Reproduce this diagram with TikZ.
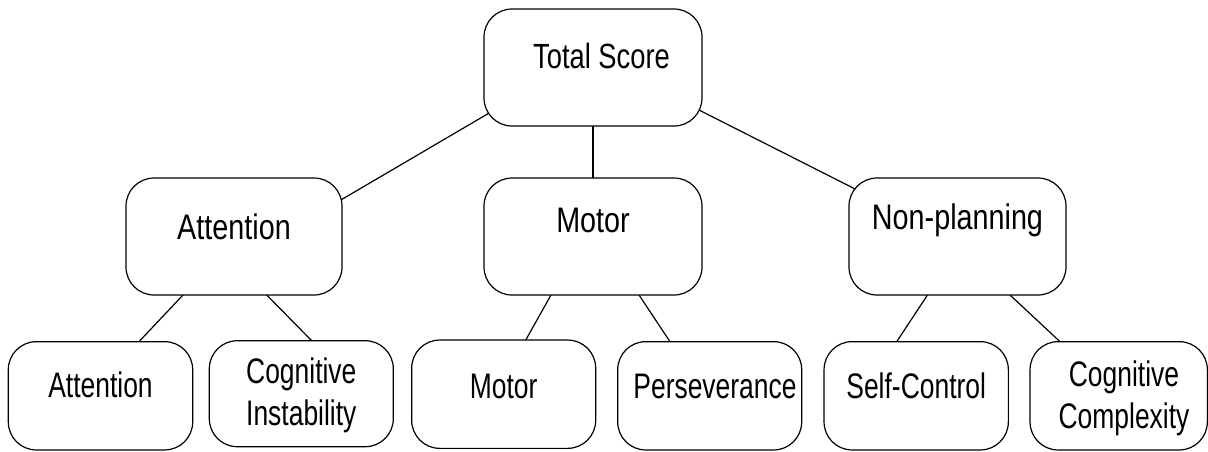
\documentclass[tikz,border=0pt]{standalone}
\usepackage{fontspec}
\setmainfont{Liberation Sans}
\newfontfamily\ftop{Liberation Sans}[FakeStretch=0.78]
\newfontfamily\fmid{Liberation Sans}[FakeStretch=0.81]
\newfontfamily\fbot{Liberation Sans}[FakeStretch=0.745]
\usetikzlibrary{calc,backgrounds}
\begin{document}
\begin{tikzpicture}[x=1pt,y=-1pt,
  box/.style={draw=black, line width=1.2pt, fill=white, rounded corners=28pt,
    rectangle, inner sep=0pt, outer sep=0pt, align=center},
  bigbox/.style={box, minimum width=#1, minimum height=117pt},
  smallbox/.style={box, minimum width=#1, minimum height=108.3pt},
  toptext/.style={font=\ftop\fontsize{35pt}{41.7pt}\selectfont},
  midtext/.style={font=\fmid\fontsize{35.5pt}{41.7pt}\selectfont},
  bottext/.style={font=\fbot\fontsize{35.5pt}{41.7pt}\selectfont},
  conn/.style={draw=black, line width=1.2pt}]
\useasboundingbox (0,0) rectangle (1208,451);

% top level
\node[bigbox=218pt, toptext, text height=30.8pt, text depth=29.2pt] (tot) at (593,67.5) {\hspace*{17pt}Total Score};

% middle level
\node[bigbox=216pt, midtext, text height=32.5pt, text depth=27.5pt] (attM) at (234,236.5) {Attention};
\node[bigbox=218pt, midtext, text height=25.8pt, text depth=34.2pt] (motM) at (593,236.5) {Motor};
\node[bigbox=217pt, midtext, text height=22.8pt, text depth=37.2pt] (nonM) at (957.5,236.5) {Non-planning};

% bottom level
\node[smallbox=184.4pt, bottext, text height=31.5pt, text depth=28.5pt] (attB) at (100.5,395.8) {Attention};
\node[box, minimum width=184pt, minimum height=106pt, bottext, text height=62.6pt, text depth=0pt] (cogI) at (301.3,393.7) {Cognitive\\Instability};
\node[smallbox=184pt, bottext, text height=33.8pt, text depth=26.2pt] (motB) at (503.7,394.2) {Motor};
\node[smallbox=184pt, bottext, text height=32.2pt, text depth=27.8pt] (pers) at (709.7,395.8) {\hspace*{10.6pt}Perseverance};
\node[smallbox=184.3pt, bottext, text height=32.2pt, text depth=27.8pt] (self) at (916.2,395.8) {Self-Control};
\node[smallbox=177.3pt, bottext, text height=65pt, text depth=0pt] (cogC) at (1118.7,395.8) {\hspace*{10.6pt}Cognitive\\\hspace*{10.6pt}Complexity};

\begin{scope}[on background layer]
  \draw[conn] ($(attM.19.6)!-0.1!(tot.204.7)$) -- ($(attM.19.6)!1.15!(tot.204.7)$);
  \draw[conn] (tot.south) -- (motM.north);
  \draw[conn] ($(tot.-22.5)!-0.15!(nonM.155.4)$) -- ($(tot.-22.5)!1.1!(nonM.155.4)$);
  \draw[conn] ([xshift=-51pt]attM.south) -- ([xshift=38.5pt]attB.north);
  \draw[conn] ([xshift=32.7pt]attM.south) -- ([xshift=10.4pt]cogI.north);
  \draw[conn] ([xshift=-42pt]motM.south) -- ([xshift=22pt]motB.north);
  \draw[conn] ([xshift=46pt]motM.south) -- ([xshift=-39.7pt]pers.north);
  \draw[conn] ([xshift=-30pt]nonM.south) -- ([xshift=-19.5pt]self.north);
  \draw[conn] ([xshift=52.5pt]nonM.south) -- ([xshift=-58.7pt]cogC.north);
\end{scope}
\end{tikzpicture}
\end{document}
